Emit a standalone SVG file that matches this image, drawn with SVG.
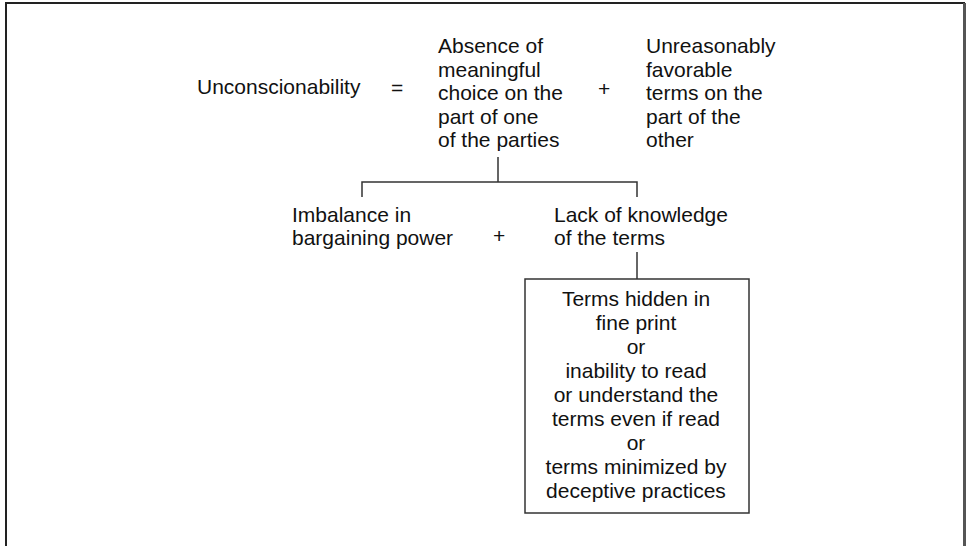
<svg xmlns="http://www.w3.org/2000/svg" width="967" height="546" viewBox="0 0 967 546">
<style>
text{font-family:"Liberation Sans",Arial,sans-serif;font-size:21px;fill:#111}
.c{text-anchor:middle}
.ln{stroke:#333;stroke-width:1.5;fill:none}
</style>
<rect x="0" y="0" width="967" height="546" fill="#fff"/>
<g id="frame">
<rect x="6" y="3" width="958" height="600" fill="none" stroke="#222" stroke-width="2"/>
<line x1="964.5" y1="3" x2="964.5" y2="546" stroke="#555" stroke-width="3"/>
</g>
<g id="connectors">
<path class="ln" d="M498 157 V182 M362 197 V182 H637 V197"/>
<path class="ln" d="M637 252 V279"/>
</g>
<g id="unconscionability"><text x="197" y="94">Unconscionability</text></g>
<g id="equals"><text x="391" y="95">=</text></g>
<g id="absence">
<text x="438" y="53">Absence of</text>
<text x="438" y="76.5">meaningful</text>
<text x="438" y="100">choice on the</text>
<text x="438" y="123.5">part of one</text>
<text x="438" y="147">of the parties</text>
</g>
<g id="plus1"><text x="598" y="96">+</text></g>
<g id="unreasonably">
<text x="646" y="53">Unreasonably</text>
<text x="646" y="76.5">favorable</text>
<text x="646" y="100">terms on the</text>
<text x="646" y="123.5">part of the</text>
<text x="646" y="147">other</text>
</g>
<g id="imbalance">
<text x="292" y="222">Imbalance in</text>
<text x="292" y="245">bargaining power</text>
</g>
<g id="plus2"><text x="493" y="243">+</text></g>
<g id="lack">
<text x="554" y="222">Lack of knowledge</text>
<text x="554" y="245">of the terms</text>
</g>
<g id="box">
<rect x="525" y="279" width="224" height="234" fill="#fff" stroke="#333" stroke-width="1.5"/>
<text class="c" x="636" y="306">Terms hidden in</text>
<text class="c" x="636" y="330">fine print</text>
<text class="c" x="636" y="354">or</text>
<text class="c" x="636" y="378">inability to read</text>
<text class="c" x="636" y="402">or understand the</text>
<text class="c" x="636" y="426">terms even if read</text>
<text class="c" x="636" y="450">or</text>
<text class="c" x="636" y="474">terms minimized by</text>
<text class="c" x="636" y="498">deceptive practices</text>
</g>
</svg>
